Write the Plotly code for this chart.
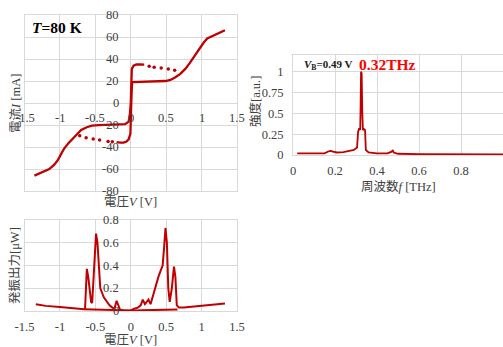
import plotly.graph_objects as go

# ---------------- data ----------------
# I-V curve (V in volts, I in mA)
iv_up_v = [-1.36, -1.25, -1.15, -1.08, -1.03, -0.98, -0.94, -0.88, -0.82, -0.76, -0.70, -0.62, -0.55,
           -0.45, -0.34, -0.20, -0.08, -0.03, -0.012, 0.0, 0.004, 0.008, 0.015, 0.04, 0.08, 0.14, 0.19]
iv_up_i = [-66, -63, -60, -56, -52, -46, -41.4, -36.5, -32.3, -28, -24.6, -22, -20.6,
           -20.2, -20, -19.6, -19.3, -17, -10, 0, 15, 25, 31, 34, 35, 35, 34.8]
iv_up_dot_v = [0.26, 0.33, 0.43, 0.53, 0.62]
iv_up_dot_i = [33.5, 32.6, 31.8, 31.0, 29.8]
iv_dn_v = [1.33, 1.27, 1.20, 1.14, 1.08, 1.03, 0.99, 0.94, 0.89, 0.83, 0.77, 0.70, 0.63, 0.56,
           0.49, 0.40, 0.30, 0.20, 0.10, 0.04, 0.02, 0.012, 0.006, 0.0, -0.005, -0.02, -0.03, -0.06,
           -0.10, -0.15, -0.20]
iv_dn_i = [66.2, 64.5, 62.6, 60.5, 58.6, 55, 51, 46, 41.7, 36, 31, 26.5, 23.4, 21,
           20, 19.7, 19.5, 19.3, 19, 18.8, 19, 10, 0, -20, -28, -31, -33, -35,
           -36, -36, -35.5]
iv_dn_dot_v = [-0.26, -0.32, -0.44, -0.53, -0.63, -0.72]
iv_dn_dot_i = [-35.3, -35.0, -33.7, -32.8, -31.5, -29.8]

# oscillation output vs voltage (uW)
p1_v = [-1.34, -1.2, -1.0, -0.85, -0.72, -0.66, -0.645, -0.62, -0.60, -0.56, -0.545, -0.52, -0.49,
        -0.47, -0.43, -0.38, -0.34, -0.30, -0.26, -0.23, -0.20, -0.18, -0.15, -0.10, -0.05, 0.0,
        0.15, 0.30, 0.45, 0.60, 0.66]
p1_p = [0.06, 0.045, 0.035, 0.025, 0.018, 0.015, 0.02, 0.37, 0.30, 0.08, 0.07, 0.35, 0.68,
        0.60, 0.20, 0.12, 0.08, 0.05, 0.03, 0.02, 0.09, 0.06, 0.01, 0.005, 0.003, 0.003,
        0.006, 0.008, 0.01, 0.012, 0.014]
p2_v = [-0.66, -0.5, -0.3, -0.1, 0.0, 0.05, 0.10, 0.14, 0.17, 0.20, 0.23, 0.25, 0.28, 0.32, 0.35,
        0.39, 0.42, 0.45, 0.47, 0.49, 0.51, 0.53, 0.55, 0.58, 0.61, 0.63, 0.65, 0.68, 0.75, 0.85,
        1.0, 1.15, 1.33]
p2_p = [0.015, 0.012, 0.01, 0.006, 0.005, 0.02, 0.03, 0.05, 0.10, 0.06, 0.09, 0.10, 0.06, 0.15, 0.22,
        0.30, 0.35, 0.40, 0.55, 0.73, 0.60, 0.20, 0.08, 0.20, 0.39, 0.30, 0.05, 0.03, 0.03, 0.035,
        0.045, 0.055, 0.065]

# spectrum (THz, a.u.)
sp_f = [0.02, 0.05, 0.08, 0.12, 0.15, 0.17, 0.18, 0.19, 0.21, 0.24, 0.27, 0.29, 0.305, 0.31, 0.315,
        0.32, 0.322, 0.324, 0.327, 0.33, 0.333, 0.338, 0.343, 0.347, 0.36, 0.40, 0.45, 0.47, 0.475,
        0.48, 0.50, 0.60, 0.70, 0.80, 0.90, 1.0]
sp_a = [0.02, 0.018, 0.02, 0.015, 0.02, 0.045, 0.05, 0.04, 0.03, 0.035, 0.045, 0.06, 0.09, 0.28, 0.32,
        0.30, 0.60, 1.0, 0.98, 0.50, 0.30, 0.31, 0.30, 0.06, 0.03, 0.02, 0.02, 0.04, 0.06,
        0.03, 0.015, 0.01, 0.01, 0.01, 0.008, 0.008]

v_ticks = [-1.5, -1, -0.5, 0, 0.5, 1, 1.5]
v_ticktext = ["-1.5", "-1", "-0.5", "0", "0.5", "1", "1.5"]
i_ticks = [-80, -60, -40, -20, 0, 20, 40, 60, 80]
i_ticktext = ["-80", "-60", "-40", "-20", "0", "20", "40", "60", "80"]
p_ticks = [0, 0.2, 0.4, 0.6, 0.8]
p_ticktext = ["0", "0.2", "0.4", "0.6", "0.8"]
f_ticks = [0, 0.2, 0.4, 0.6, 0.8, 1]
f_ticktext = ["0", "0.2", "0.4", "0.6", "0.8", "1"]
a_ticks = [0, 0.25, 0.5, 0.75, 1]
a_ticktext = ["0", "0.25", "0.5", "0.75", "1"]

# ---------------- style ----------------
W, H = 503, 347
RED = "#C00000"
GRID = "#D9D9D9"
TXT = "#404040"
FONT = "Liberation Serif, Noto Sans CJK JP, serif"


def px_x(p):
    return p / W


def px_y(p):
    return 1 - p / H


d1x = [px_x(24.5), px_x(237)]
d1y = [px_y(191), px_y(15)]
d2x = [px_x(24.5), px_x(237)]
d2y = [px_y(311), px_y(220)]
d3x = [px_x(293), 1.0]
d3y = [px_y(155), px_y(55)]

fig = go.Figure()
line = dict(color=RED, width=2.3)
fig.add_trace(go.Scatter(x=iv_up_v, y=iv_up_i, mode="lines", line=line, xaxis="x", yaxis="y"))
fig.add_trace(go.Scatter(x=iv_dn_v, y=iv_dn_i, mode="lines", line=line, xaxis="x", yaxis="y"))
fig.add_trace(go.Scatter(x=iv_up_dot_v, y=iv_up_dot_i, mode="markers",
                         marker=dict(color=RED, size=3.5), xaxis="x", yaxis="y"))
fig.add_trace(go.Scatter(x=iv_dn_dot_v, y=iv_dn_dot_i, mode="markers",
                         marker=dict(color=RED, size=3.5), xaxis="x", yaxis="y"))
fig.add_trace(go.Scatter(x=p1_v, y=p1_p, mode="lines", line=dict(color=RED, width=2), xaxis="x2", yaxis="y2"))
fig.add_trace(go.Scatter(x=p2_v, y=p2_p, mode="lines", line=dict(color=RED, width=2), xaxis="x2", yaxis="y2"))
fig.add_trace(go.Scatter(x=sp_f, y=sp_a, mode="lines", line=dict(color=RED, width=1.8), xaxis="x3", yaxis="y3"))

base = dict(showgrid=True, gridcolor=GRID, gridwidth=1, showline=True, mirror=True,
            linecolor=GRID, linewidth=1, zeroline=False, ticks="", fixedrange=True, automargin=False)
TICK_SIZE = 12.5
tickfont = dict(family=FONT, size=TICK_SIZE, color=TXT)

fig.update_layout(
    width=W, height=H, autosize=False,
    margin=dict(l=0, r=0, t=0, b=0, pad=0),
    paper_bgcolor="white", plot_bgcolor="white",
    showlegend=False,
    xaxis=dict(base, domain=d1x, anchor="y", range=[-1.5, 1.5], tickvals=v_ticks, showticklabels=False),
    yaxis=dict(base, domain=d1y, anchor="x", range=[-80, 80], tickvals=i_ticks, showticklabels=False),
    xaxis2=dict(base, domain=d2x, anchor="y2", range=[-1.5, 1.5], tickvals=v_ticks, ticktext=v_ticktext,
                tickfont=tickfont, ticklabelstandoff=4),
    yaxis2=dict(base, domain=d2y, anchor="x2", range=[0, 0.8], tickvals=p_ticks, showticklabels=False),
    xaxis3=dict(base, domain=d3x, anchor="y3", range=[0, 1], tickvals=f_ticks, ticktext=f_ticktext,
                tickfont=tickfont, ticklabelstandoff=4),
    yaxis3=dict(base, domain=d3y, anchor="x3", range=[0, 1.2], tickvals=a_ticks, ticktext=a_ticktext,
                tickfont=tickfont, ticklabelstandoff=6),
)

anns = []
# tick labels of the axes that cross at the origin (I-V chart and output chart)
for v, t in zip(v_ticks, v_ticktext):
    anns.append(dict(text=t, x=v, y=0, xref="x", yref="y", yshift=-15, xanchor="center",
                     yanchor="middle", font=tickfont))
for i, t in zip(i_ticks, i_ticktext):
    anns.append(dict(text=t, x=0, y=i, xref="x", yref="y", xshift=-10, xanchor="right",
                     yanchor="middle", font=tickfont))
for p, t in zip(p_ticks, p_ticktext):
    anns.append(dict(text=t, x=0, y=p, xref="x2", yref="y2", xshift=-10, xanchor="right",
                     yanchor="middle", font=tickfont))

title_font = dict(family=FONT, size=12.5, color=TXT)
anns += [
    dict(text="<b><i>T</i>=80 K</b>", x=px_x(30), y=px_y(27), xanchor="left", yanchor="middle",
         font=dict(family=FONT, size=15.5, color="black")),
    dict(text="<b><i>V</i><sub>B</sub>=0.49 V</b>", x=px_x(302), y=px_y(65), xanchor="left",
         yanchor="middle", font=dict(family=FONT, size=11, color="#202020")),
    dict(text="<b>0.32THz</b>", x=px_x(357), y=px_y(64), xanchor="left", yanchor="middle",
         font=dict(family=FONT, size=15.5, color="#FF0000")),
    dict(text="電流<i>I</i> [mA]", x=px_x(16), y=px_y(103), textangle=-90, xanchor="center",
         yanchor="middle", font=title_font),
    dict(text="電圧<i>V</i> [V]", x=px_x(130), y=px_y(202), xanchor="center", yanchor="middle",
         font=title_font),
    dict(text="発振出力[μW]", x=px_x(15), y=px_y(266), textangle=-90, xanchor="center",
         yanchor="middle", font=title_font),
    dict(text="電圧<i>V</i> [V]", x=px_x(130), y=px_y(340), xanchor="center", yanchor="middle",
         font=title_font),
    dict(text="周波数<i>f</i> [THz]", x=px_x(398), y=px_y(186), xanchor="center", yanchor="middle",
         font=title_font),
    dict(text="強度[a.u.]", x=px_x(255), y=px_y(102), textangle=-90, xanchor="center",
         yanchor="middle", font=title_font),
]
for a in anns:
    a.setdefault("xref", "paper")
    a.setdefault("yref", "paper")
    a["showarrow"] = False
fig.update_layout(annotations=anns)

# remove the browser's default 8px body margin so the figure fills the window exactly
fig.write_html("out.html", config={"displayModeBar": False},
               post_script="document.body.style.margin='0';document.body.style.overflow='hidden';")
